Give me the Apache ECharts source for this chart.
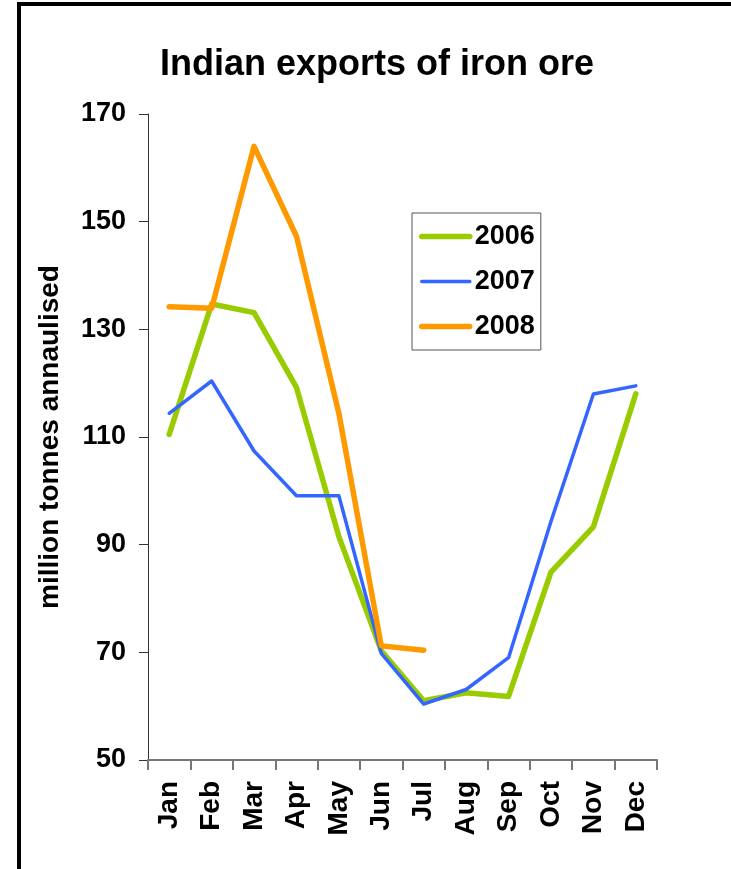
<!DOCTYPE html>
<html>
<head>
<meta charset="utf-8">
<title>Indian exports of iron ore</title>
<script src="https://cdn.jsdelivr.net/npm/echarts@6/dist/echarts.min.js"></script>
<style>
  html, body { margin: 0; padding: 0; background: #fff; }
  #chart { width: 731px; height: 869px; }
</style>
</head>
<body>
<div id="chart"></div>
<script>
// Monthly iron ore exports, million tonnes annualised
const months = ['Jan', 'Feb', 'Mar', 'Apr', 'May', 'Jun', 'Jul', 'Aug', 'Sep', 'Oct', 'Nov', 'Dec'];
const exports2006 = [110.5, 134.7, 133.1, 119.2, 91.5, 70.3, 61.0, 62.5, 61.8, 84.9, 93.3, 118.0];
const exports2007 = [114.4, 120.4, 107.4, 99.1, 99.1, 69.8, 60.4, 63.1, 69.0, 94.3, 118.0, 119.5];
const exports2008 = [134.2, 133.9, 164.0, 147.3, 114.4, 71.2, 70.4, null, null, null, null, null];
const yearNames = ['2006', '2007', '2008'];

const FONT = "'Liberation Sans', Arial, sans-serif";

const chart = echarts.init(document.getElementById('chart'), null, { renderer: 'canvas' });

function lineSeries(name, data, color, width) {
  return {
    name: name,
    type: 'line',
    data: data,
    symbol: 'none',
    showSymbol: false,
    connectNulls: false,
    animation: false,
    lineStyle: { color: color, width: width, cap: 'round', join: 'round' },
    itemStyle: { color: color }
  };
}

chart.setOption({
  backgroundColor: '#ffffff',
  animation: false,
  title: {
    text: 'Indian exports of iron ore',
    left: 155,
    top: 42,
    textStyle: { fontFamily: FONT, fontSize: 36, fontWeight: 'bold', color: '#000' }
  },
  graphic: [{
    type: 'rect',
    shape: { x: 19, y: 4, width: 900, height: 1200 },
    style: { fill: 'none', stroke: '#000', lineWidth: 4 },
    silent: true
  }],
  legend: {
    orient: 'vertical',
    left: 412,
    top: 213,
    padding: [10, 6, 10, 7],
    itemWidth: 48,
    itemHeight: 14,
    itemGap: 18,
    backgroundColor: '#fff',
    borderColor: '#555',
    borderWidth: 1,
    data: yearNames,
    // line-only keys: hide the marker, keep each series' own line width
    itemStyle: { opacity: 0 },
    lineStyle: { width: 'inherit', cap: 'round' },
    textStyle: { fontFamily: FONT, fontSize: 27, fontWeight: 'bold', color: '#000' }
  },
  grid: { left: 148, right: 74, top: 114, bottom: 109, containLabel: false },
  xAxis: {
    type: 'category',
    data: months,
    boundaryGap: true,
    axisLine: { lineStyle: { color: '#777', width: 2 } },
    axisTick: { show: true, length: 10, lineStyle: { color: '#777', width: 2 } },
    axisLabel: {
      rotate: 90,
      margin: 21,
      interval: 0,
      fontFamily: FONT, fontSize: 28, fontWeight: 'bold', color: '#000'
    },
    splitLine: { show: false }
  },
  yAxis: {
    type: 'value',
    min: 50,
    max: 170,
    interval: 20,
    name: 'million tonnes annaulised',
    nameLocation: 'middle',
    nameGap: 84,
    nameTextStyle: { fontFamily: FONT, fontSize: 28, fontWeight: 'bold', color: '#000' },
    axisLine: { show: true, lineStyle: { color: '#333', width: 1 } },
    axisTick: { show: true, length: 9, lineStyle: { color: '#333', width: 1 } },
    axisLabel: { margin: 22, fontFamily: FONT, fontSize: 27, fontWeight: 'bold', color: '#000' },
    splitLine: { show: false }
  },
  series: [
    lineSeries(yearNames[0], exports2006, '#99CC00', 5.5),
    lineSeries(yearNames[1], exports2007, '#3366FF', 3.5),
    lineSeries(yearNames[2], exports2008, '#FF9900', 5.5)
  ]
});
</script>
</body>
</html>
